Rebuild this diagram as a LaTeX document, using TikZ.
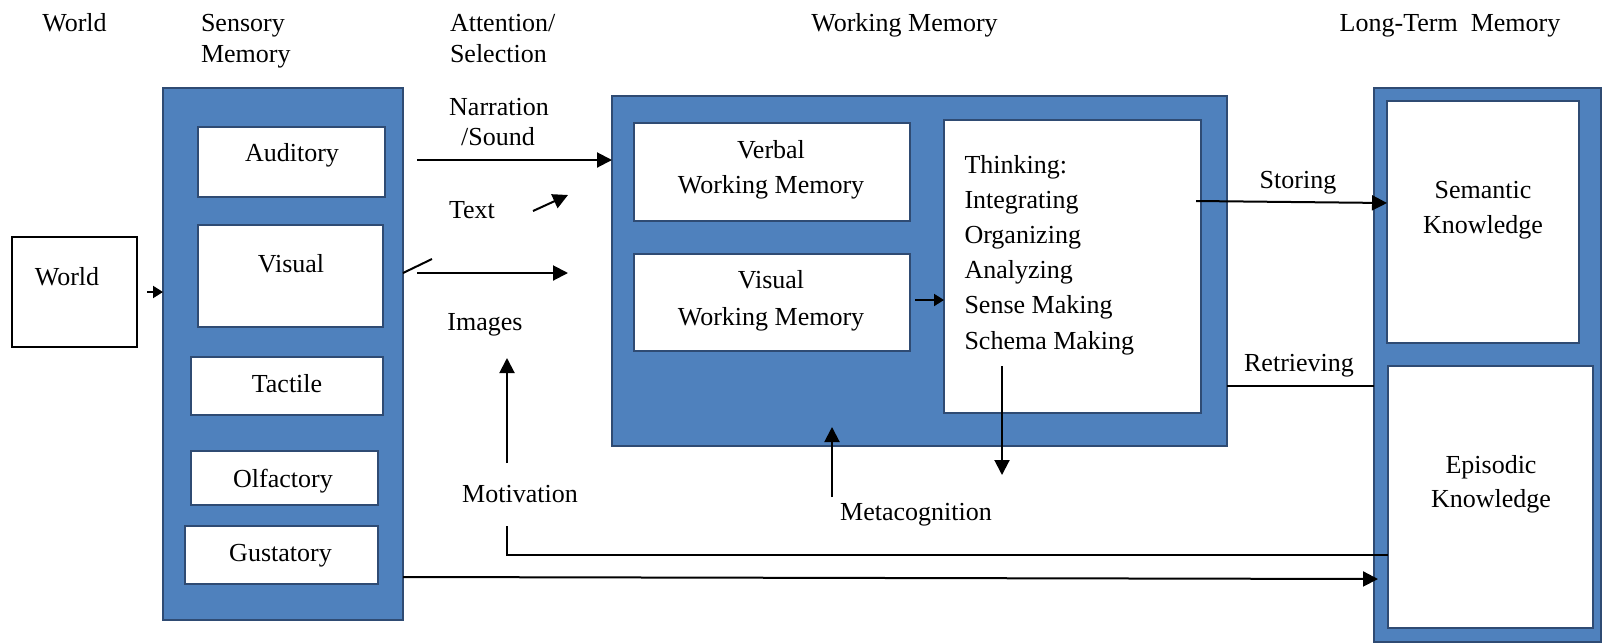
\documentclass[tikz,border=0pt]{standalone}
\usepackage{fontspec}
\setmainfont{Liberation Serif}
\usetikzlibrary{arrows.meta}
\definecolor{boxblue}{HTML}{4F81BD}
\definecolor{boxedge}{HTML}{2F4B73}
\begin{document}
\begin{tikzpicture}[x=1pt,y=-1pt,
  every node/.style={inner sep=0pt, outer sep=0pt},
  txt/.style={font=\fontsize{26}{35}\selectfont, anchor=base},
  ltxt/.style={txt, anchor=base west},
  panel/.style={draw=boxedge, fill=boxblue, line width=2.2pt, anchor=north west},
  inbox/.style={draw=boxedge, fill=white, line width=2pt, anchor=north west},
  conn/.style={line width=2pt, draw=black},
  thinconn/.style={line width=1.6pt, draw=black},
  arr/.style={conn, -{Triangle[length=15pt,width=15pt]}},
  smallarr/.style={conn, -{Triangle[length=10pt,width=12pt]}},
]
\useasboundingbox (0,0) rectangle (1602,643);

% ---- boxes ----
\node[draw=black, fill=white, line width=2.2pt, anchor=north west, minimum width=125pt, minimum height=110pt] (world) at (12,237) {};
\node[panel, minimum width=240pt, minimum height=532pt] (sens) at (163,88) {};
\node[inbox, minimum width=187pt, minimum height=70pt] (aud) at (198,127) {};
\node[inbox, minimum width=185pt, minimum height=102pt] (vis) at (198,225) {};
\node[inbox, minimum width=192pt, minimum height=58pt] (tac) at (191,357) {};
\node[inbox, minimum width=187pt, minimum height=54pt] (olf) at (191,451) {};
\node[inbox, minimum width=193pt, minimum height=58pt] (gus) at (185,526) {};

\node[panel, minimum width=615pt, minimum height=350pt] (wm) at (612,96) {};
\node[inbox, minimum width=276pt, minimum height=98pt] (verb) at (634,123) {};
\node[inbox, minimum width=276pt, minimum height=97pt] (viswm) at (634,254) {};
\node[inbox, minimum width=257pt, minimum height=293pt] (think) at (944,120) {};

\node[panel, minimum width=227pt, minimum height=554pt] (ltm) at (1374,88) {};
\node[inbox, minimum width=192pt, minimum height=242pt] (sem) at (1387,101) {};
\node[inbox, minimum width=205pt, minimum height=262pt] (epi) at (1388,366) {};

% ---- top labels ----
\node[txt] (tWorld) at (74.5,31) {World};
\node[ltxt] (tSens1) at (201,31) {Sensory};
\node[ltxt] (tSens2) at (201,62) {Memory};
\node[ltxt] (tAtt1) at (450,31) {Attention/};
\node[ltxt] (tAtt2) at (450,62) {Selection};
\node[txt] (tWM) at (904.5,31) {Working Memory};
\node[txt] (tLTM) at (1450,31) {Long-Term\ \ Memory};

% ---- box texts ----
\node[txt] (lWorld) at (67,285) {World};
\node[txt] (lAud) at (292,161.7) {Auditory};
\node[txt] (lVis) at (291,272) {Visual};
\node[txt] (lTac) at (287,392) {Tactile};
\node[txt] (lOlf) at (283,487) {Olfactory};
\node[txt] (lGus) at (280.5,561) {Gustatory};

\node[txt] (lVerb1) at (771,158) {Verbal};
\node[txt] (lVerb2) at (771,193) {Working Memory};
\node[txt] (lVwm1) at (771,288) {Visual};
\node[txt] (lVwm2) at (771,325) {Working Memory};

\node[ltxt] (th1) at (964.5,173) {Thinking:};
\node[ltxt] (th2) at (964.5,208) {Integrating};
\node[ltxt] (th3) at (964.5,243) {Organizing};
\node[ltxt] (th4) at (964.5,278) {Analyzing};
\node[ltxt] (th5) at (964.5,313) {Sense Making};
\node[ltxt] (th6) at (964.5,349) {Schema Making};

\node[txt] (lSem1) at (1483,198) {Semantic};
\node[txt] (lSem2) at (1483,233) {Knowledge};
\node[txt] (lEpi1) at (1491,473) {Episodic};
\node[txt] (lEpi2) at (1491,507) {Knowledge};

% ---- connector labels ----
\node[txt] (lNar1) at (499,115) {Narration};
\node[txt] (lNar2) at (498,145) {/Sound};
\node[txt] (lText) at (472,218) {Text};
\node[txt] (lImg) at (485,330) {Images};
\node[txt] (lMot) at (520,502) {Motivation};
\node[txt] (lMeta) at (916,520) {Metacognition};
\node[txt] (lStor) at (1298,188) {Storing};
\node[txt] (lRet) at (1299,371) {Retrieving};

% ---- coordinates ----
\coordinate (wA) at (147,292);
\coordinate (nA) at (417,160);
\coordinate (txA) at (533,211);
\coordinate (txB) at (568,195);
\coordinate (stubB) at (432,259);
\coordinate (stubY) at (0,273);
\coordinate (imA) at (417,273);
\coordinate (imB) at (568,273);
\coordinate (moA) at (507,463);
\coordinate (moB) at (507,358);
\coordinate (moC) at (507,526);
\coordinate (moY) at (0,555);
\coordinate (meA) at (832,497);
\coordinate (meB) at (832,427);
\coordinate (thA) at (1002,366);
\coordinate (thB) at (1002,475);
\coordinate (vwA) at (915,300);
\coordinate (stA) at (1196,201);
\coordinate (stB) at (1387,203);
\coordinate (rY) at (0,386);
\coordinate (gY) at (0,577);
\coordinate (gB) at (1378,579);

% ---- connectors ----
\draw[smallarr] (wA) -- (wA -| sens.west);
\draw[arr] (nA) -- (nA -| wm.west);
\draw[arr] (txA) -- (txB);
\draw[conn] (sens.east |- stubY) -- (stubB);
\draw[arr] (imA) -- (imB);
\draw[arr] (moA) -- (moB);
\draw[thinconn] (moC) -- (moC |- moY) -- (epi.west |- moY);
\draw[arr] (meA) -- (meB);
\draw[arr] (thA) -- (thB);
\draw[smallarr] (vwA) -- (vwA -| think.west);
\draw[arr] (stA) -- (stB);
\draw[conn] (wm.east |- rY) -- (ltm.west |- rY);
\draw[arr] (sens.east |- gY) -- (gB);
\end{tikzpicture}
\end{document}
